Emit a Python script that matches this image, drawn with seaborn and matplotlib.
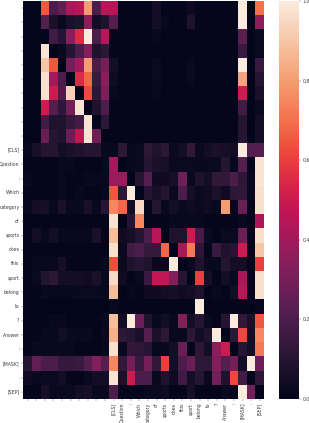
import matplotlib
matplotlib.use("Agg")
import matplotlib.pyplot as plt
import numpy as np
import seaborn as sns

tokens = ["[CLS]", "Question", ":", "Which", "category", "of", "sports", "does", "this", "sport",
          "belong", "to", "?", "Answer", ":", "[MASK]", ".", "[SEP]"]
labels = [""] * 10 + tokens

r00 = [.00,.00,.65,.20,.25,.42,.45,.80,.20,.45,.45,.01,.01,.01,.01,.05,.01,.01,.01,.04,.01,.01,.01,.01,.01,1.0,.00,.70]
r01 = [.00,.00,.22,.07,.03,.07,.08,.35,.05,.08,.22,.01,.01,.01,.01,.05,.02,.01,.01,.08,.01,.01,.01,.01,.01,1.0,.00,.35]
r02 = [.00,.00,.00,.17,.10,.35,.55,1.0,.20,.45,.01,.01,.01,.01,.01,.02,.01,.01,.01,.01,.01,.01,.01,.01,.01,.24,.00,.03]
r03 = [.00,.00,.98,.00,.03,.10,.20,.33,.08,.12,.01,.01,.01,.01,.01,.01,.01,.01,.01,.01,.01,.01,.01,.01,.01,.15,.00,.03]
r04 = [.00,.00,.90,.65,.00,.30,.40,.80,.20,.30,.05,.01,.01,.01,.01,.03,.01,.01,.01,.03,.01,.01,.01,.01,.01,1.0,.00,.15]
r05 = [.00,.00,.97,.40,.20,.00,.55,.68,.15,.35,.04,.01,.01,.01,.01,.03,.01,.01,.01,.03,.01,.01,.01,.01,.01,.82,.00,.10]
r06 = [.00,.00,.97,.50,.20,.93,.00,.62,.12,.32,.02,.01,.01,.01,.01,.02,.01,.01,.01,.01,.01,.01,.01,.01,.01,.50,.00,.07]
r07 = [.00,.00,.50,.22,.12,.30,.98,.00,.08,.20,.01,.01,.01,.01,.01,.01,.01,.01,.01,.01,.01,.01,.01,.01,.01,.17,.00,.03]
r08 = [.00,.00,.17,.08,.08,.14,.18,.98,.00,.12,.01,.01,.01,.01,.01,.01,.01,.01,.01,.01,.01,.01,.01,.01,.01,.10,.00,.05]
r09 = [.00,.00,.27,.10,.08,.27,.47,.98,.28,.00,.01,.01,.01,.01,.01,.01,.01,.01,.01,.01,.01,.01,.01,.01,.01,.10,.00,.05]
r10 = [.02,.06,.10,.10,.05,.07,.08,.10,.10,.03,.02,.12,.02,.03,.12,.08,.12,.03,.05,.13,.03,.05,.07,.06,.05,1.0,.22,.22]
r11 = [.01,.01,.01,.01,.02,.02,.01,.01,.01,.02,.40,.00,.02,.03,.10,.07,.06,.03,.03,.03,.02,.03,.03,.10,.02,.22,.00,.98]
r12 = [.02,.01,.01,.01,.02,.01,.01,.02,.02,.02,.38,.38,.00,.10,.22,.04,.04,.06,.28,.02,.08,.05,.13,.13,.20,.12,.02,.98]
r13 = [.01,.01,.01,.01,.02,.01,.02,.01,.01,.02,.65,.12,1.0,.00,.10,.06,.10,.03,.20,.06,.03,.04,.07,.04,.12,.13,.02,.97]
r14 = [.02,.05,.06,.02,.07,.02,.03,.07,.02,.10,.75,.68,.05,.95,.00,.10,.02,.05,.03,.04,.03,.04,.02,.80,.02,.27,.01,.97]
r15 = [.01,.01,.01,.01,.01,.01,.01,.01,.01,.01,.98,.00,.10,.75,.01,.01,.01,.02,.02,.02,.02,.01,.01,.01,.01,.03,.01,.42]
r16 = [.01,.05,.02,.05,.02,.02,.02,.02,.07,.01,.88,.04,.06,.10,.20,.45,.00,.08,.08,.50,.18,.03,.01,.03,.03,.27,.01,.97]
r17 = [.01,.01,.01,.01,.01,.01,.01,.01,.01,.01,.97,.03,.17,.20,.14,.14,.68,.00,.42,.72,.12,.01,.15,.08,.10,.50,.01,.90]
r18 = [.01,.02,.02,.02,.06,.01,.01,.01,.01,.02,.63,.03,.08,.10,.08,.02,.02,1.0,.00,.03,.08,.02,.02,.10,.05,.05,.01,.60]
r19 = [.01,.03,.09,.12,.05,.05,.05,.04,.07,.02,.95,.04,.01,.03,.15,.48,.48,.33,.10,.00,.60,.06,.01,.05,.02,.42,.01,.97]
r20 = [.01,.01,.03,.02,.02,.02,.03,.03,.03,.02,.88,.01,.02,.01,.04,.04,.05,.06,.04,.05,.08,.00,.02,.01,.05,.45,.01,.97]
r21 = [.00,.00,.00,.00,.00,.00,.00,.00,.00,.00,.02,.01,.01,.01,.01,.01,.01,.01,.01,.01,1.0,.00,.01,.01,.01,.01,.01,.02]
r22 = [.01,.01,.01,.02,.02,.01,.01,.01,.01,.02,.88,.05,1.0,.27,.08,.02,.05,.03,.33,.05,.10,.03,.01,.10,1.0,.13,.07,.65]
r23 = [.01,.01,.03,.02,.05,.03,.02,.03,.01,.03,.85,.12,.10,.07,.22,.07,.12,.02,.02,.12,.05,.08,1.0,.00,.12,.62,.05,.75]
r24 = [.01,.02,.02,.02,.02,.02,.01,.01,.01,.02,.97,.03,.13,.12,.10,.02,.02,.05,.27,.01,.12,.05,.35,.50,.00,.10,.05,.72]
r25 = [.10,.25,.20,.20,.14,.14,.15,.22,.33,.22,.75,.13,.30,.15,.30,.13,.60,.05,.20,.27,.12,.12,.33,.22,.30,.05,1.0,.27]
r26 = [.04,.02,.03,.03,.05,.01,.01,.03,.05,.05,.98,.07,.50,.20,.20,.02,.08,.04,.17,.05,.10,.02,.30,.08,.62,.17,.00,.12]
r27 = [.01,.01,.06,.03,.03,.03,.05,.06,.03,.03,.20,.01,.01,.01,.03,.03,.04,.01,.01,.06,.01,.01,.01,.03,.01,1.0,.30,.00]

matrix = np.array([r00, r01, r02, r03, r04, r05, r06, r07, r08, r09, r10, r11, r12, r13,
                   r14, r15, r16, r17, r18, r19, r20, r21, r22, r23, r24, r25, r26, r27])

W, H = 309, 423
fig = plt.figure(figsize=(W / 100, H / 100), dpi=100)
ax = fig.add_axes([23.4 / W, 1 - 399 / H, 240.6 / W, 398 / H])
cax = fig.add_axes([279 / W, 1 - 399 / H, 20 / W, 398 / H])

sns.heatmap(matrix, ax=ax, cbar_ax=cax, vmin=0, vmax=1, xticklabels=labels, yticklabels=labels)

fs = 3.3
ink = "#3a3a3a"
ax.tick_params(axis="both", length=1.2, width=0.25, labelsize=fs, pad=1.5, color=ink, labelcolor=ink)
ax.tick_params(axis="x", labelrotation=90)
ax.tick_params(axis="y", labelrotation=0)
cax.tick_params(length=1.2, width=0.25, labelsize=fs, pad=1.5, color=ink, labelcolor=ink)
cax.set_yticks([0, .2, .4, .6, .8, 1.0])

fig.savefig("out.png", dpi=100)
